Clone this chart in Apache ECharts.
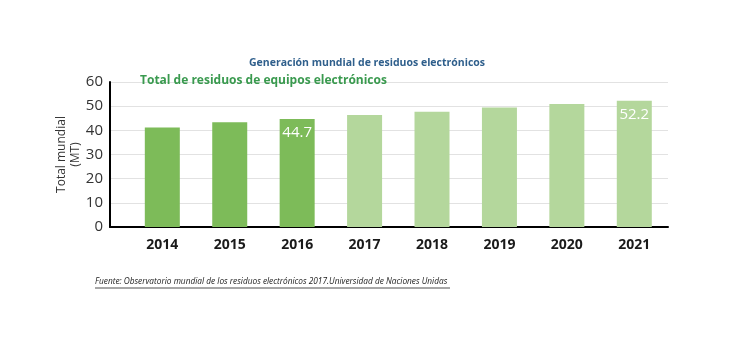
<!DOCTYPE html>
<html>
<head>
<meta charset="utf-8">
<script src="https://cdn.jsdelivr.net/npm/echarts@6/dist/echarts.min.js"></script>
<style>html,body{margin:0;padding:0;background:#fff}#c{width:754px;height:359px}</style>
</head>
<body>
<div id="c"></div>
<script>
const years = ['2014','2015','2016','2017','2018','2019','2020','2021'];
const values = [41.2, 43.3, 44.7, 46.3, 47.7, 49.4, 50.9, 52.2];
const labelled = ['2016','2021'];
const yTicks = {min: 0, max: 60, interval: 10};
const darkYears = ['2014','2015','2016'];

const DARK = '#7dbb59';
const LIGHT = '#b4d79c';
const FONT = '"Open Sans", "Noto Sans", sans-serif';

const chart = echarts.init(document.getElementById('c'));
chart.setOption({
  animation: false,
  title: [
    {text: 'Generación mundial de residuos electrónicos', left: 362, textAlign: 'center', top: 53,
     textStyle: {fontFamily: FONT, fontSize: 10.5, fontWeight: 700, color: '#2f5f8c'}},
    {text: 'Total de residuos de equipos electrónicos', left: 135, top: 70,
     textStyle: {fontFamily: FONT, fontSize: 12, fontWeight: 700, color: '#3a9a4f'}}
  ],
  grid: [
    {left: 110, right: 86, top: 82, bottom: 132},
    {left: 128.6, right: 86, top: 82, bottom: 132}
  ],
  xAxis: [
    {gridIndex: 0, type: 'value', min: 0, max: 1, axisLine: {show: true, lineStyle: {color: '#000', width: 2}},
     axisTick: {show: false}, axisLabel: {show: false}, splitLine: {show: false}},
    {gridIndex: 1, type: 'category', data: years, axisLine: {show: false}, axisTick: {show: false},
     axisLabel: {fontFamily: FONT, fontSize: 14, fontWeight: 700, color: '#1a1a1a', margin: 11}}
  ],
  yAxis: [
    {gridIndex: 0, type: 'value', min: yTicks.min, max: yTicks.max, interval: yTicks.interval,
     axisLine: {show: true, lineStyle: {color: '#000', width: 2}}, axisTick: {show: false},
     axisLabel: {fontFamily: FONT, fontSize: 15, color: '#333', margin: 7},
     splitLine: {show: true, lineStyle: {color: '#e2e2e2', width: 1}},
     name: 'Total mundial\n(MT)', nameLocation: 'middle', nameGap: 27, nameRotate: 90, nameMoveOverlap: false,
     nameTextStyle: {fontFamily: FONT, fontSize: 12, color: '#333', lineHeight: 14}},
    {gridIndex: 1, type: 'value', min: yTicks.min, max: yTicks.max, interval: yTicks.interval, show: false}
  ],
  series: [{
    type: 'bar', xAxisIndex: 1, yAxisIndex: 1, barWidth: 35,
    data: values.map((v, i) => ({
      value: v,
      itemStyle: {color: darkYears.includes(years[i]) ? DARK : LIGHT},
      label: {show: labelled.includes(years[i]), position: 'insideTop', distance: 6,
              color: '#fff', fontFamily: FONT, fontSize: 15}
    }))
  }],
  graphic: [
    {type: 'text', left: 95, top: 278, style: {text: 'Fuente: Observatorio mundial de los residuos electrónicos 2017.Universidad de Naciones Unidas',
      fontFamily: FONT, fontSize: 8.3, fontStyle: 'italic', fill: '#222'}},
    {type: 'line', shape: {x1: 95, y1: 288, x2: 450, y2: 288}, style: {stroke: '#222', lineWidth: 0.8}}
  ]
});
</script>
</body>
</html>
